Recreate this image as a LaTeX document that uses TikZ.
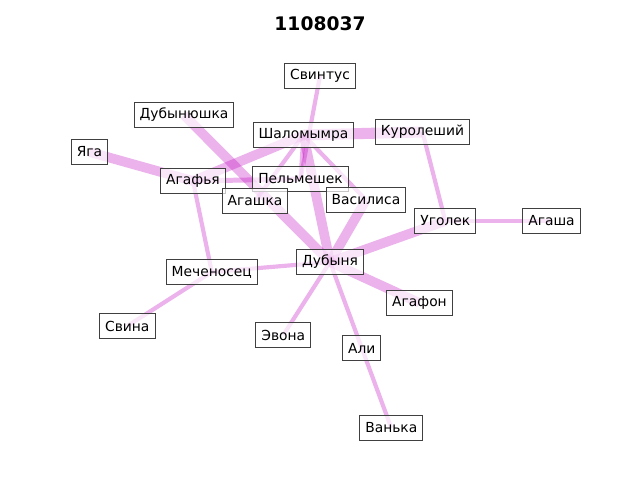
\documentclass[tikz,border=0pt]{standalone}
\usepackage{fontspec}
\setmainfont{DejaVu Sans}
\usetikzlibrary{backgrounds}
\definecolor{linkcol}{rgb}{0.75,0,0.75}

\begin{document}
\begin{tikzpicture}[x=0.01in,y=-0.01in] % 1 единица = 1 пиксель
\tikzstyle{hero} = [draw=black!75, line width=0.7pt, fill=white, fill opacity=0.7, text opacity=1, inner xsep=4pt, minimum height=18.5pt, font=\fontsize{10}{12}\selectfont] % узел-персонаж
\tikzstyle{link} = [draw=linkcol, draw opacity=0.3] % связь между персонажами
\tikzstyle{thick link} = [link, line width=7pt]
\tikzstyle{thin link} = [link, line width=3pt]
\useasboundingbox (0,0) rectangle (640,480);

\node[font=\bfseries\fontsize{13.5}{16}\selectfont] (title) at (320,24) {1108037};

\node[hero] (svintus) at (320,76) {Свинтус};
\node[hero] (dubynushka) at (184,115) {Дубынюшка};
\node[hero] (shalomymra) at (303.5,135) {Шаломымра};
\node[hero] (kuroleshiy) at (422.5,132) {Куролеший};
\node[hero] (yaga) at (89.5,152) {Яга};
\node[hero] (agafya) at (193,181) {Агафья};
\node[hero] (pelmeshek) at (300.5,179) {Пельмешек};
\node[hero] (agashka) at (255,201) {Агашка};
\node[hero] (vasilisa) at (366,200) {Василиса};
\node[hero] (ugolek) at (445.3,221) {Уголек};
\node[hero] (agasha) at (551.5,221) {Агаша};
\node[hero] (dubynya) at (330,262) {Дубыня};
\node[hero] (mechenosec) at (211.8,272) {Меченосец};
\node[hero] (agafon) at (419.5,303) {Агафон};
\node[hero] (svina) at (127.3,326) {Свина};
\node[hero] (evona) at (283.3,335) {Эвона};
\node[hero] (ali) at (361.7,348) {Али};
\node[hero] (vanka) at (391.3,428) {Ванька};

\begin{scope}[on background layer] % связи под узлами
\draw[thick link] (yaga.center) -- (agafya.center);
\draw[thick link] (agafya.center) -- (shalomymra.center);
\draw[thick link] (dubynushka.center) -- (dubynya.center);
\draw[link, line width=3.6pt] (agafya.center) -- (pelmeshek.center);
\draw[thin link] (agafya.center) -- (mechenosec.center);
\draw[link, line width=8pt] (shalomymra.center) -- (kuroleshiy.center);
\draw[thin link] (shalomymra.center) -- (agashka.center);
\draw[thin link] (shalomymra.center) -- (pelmeshek.center);
\draw[thin link] (svintus.center) -- (pelmeshek.center);
\draw[thin link] (shalomymra.center) -- (vasilisa.center);
\draw[thick link] (shalomymra.center) -- (dubynya.center);
\draw[thick link] (vasilisa.center) -- (dubynya.center);
\draw[thin link] (kuroleshiy.center) -- (ugolek.center);
\draw[thin link] (ugolek.center) -- (agasha.center);
\draw[thick link] (ugolek.center) -- (dubynya.center);
\draw[thin link] (dubynya.center) -- (mechenosec.center);
\draw[thick link] (dubynya.center) -- (agafon.center);
\draw[thin link] (dubynya.center) -- (evona.center);
\draw[thin link] (dubynya.center) -- (vanka.center);
\draw[thin link] (mechenosec.center) -- (svina.center);
\end{scope}
\end{tikzpicture}
\end{document}
